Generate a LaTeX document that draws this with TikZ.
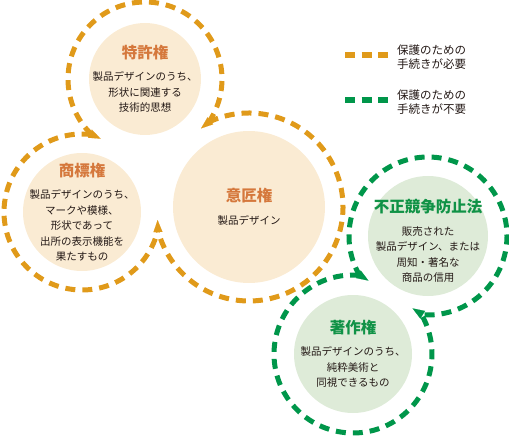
\documentclass[tikz,border=0pt]{standalone}
\usepackage{fontspec}
\setmainfont{Noto Sans CJK JP}
\usepackage{tikz}
\usetikzlibrary{arrows.meta,calc}

\definecolor{needorange}{HTML}{E09A1A}
\definecolor{freegreen}{HTML}{00964A}
\definecolor{ofill}{HTML}{FAEBD3}
\definecolor{gfill}{HTML}{DEEBD8}
\definecolor{otitle}{HTML}{D5783C}
\definecolor{gtitle}{HTML}{109246}
\definecolor{bodytext}{HTML}{231815}

\newcommand{\kenri}[2]{{\color{#1}\fontsize{15.5}{18}\selectfont\bfseries #2}}

\begin{document}
\begin{tikzpicture}[
    x=1pt, y=-1pt,
    protected/.style={circle, fill=ofill, inner sep=0pt},
    unprotected/.style={protected, fill=gfill},
    kenritxt/.style={inner sep=0pt, align=center, text=bodytext,
        font=\fontsize{10.5}{15.5}\selectfont},
    needring/.style={draw=needorange, line width=5pt, dash pattern=on 10pt off 7pt},
    freering/.style={needring, draw=freegreen},
    needtip/.style={-{Triangle[length=12pt,width=9pt]}, line width=0.1pt, needorange},
    freetip/.style={needtip, freegreen},
    legendlbl/.style={anchor=west, inner sep=0pt, align=left, text=bodytext,
        font=\fontsize{11.5}{14}\selectfont}
]
\useasboundingbox (0,0) rectangle (509,441);

% circles
\node[protected, minimum size=112pt] (tokkyo) at (145,79) {};
\node[protected, minimum size=118pt] (shohyo) at (82,212) {};
\node[protected, minimum size=152pt] (isho) at (249,207) {};
\node[unprotected, minimum size=120pt] (fusei) at (428,236) {};
\node[unprotected, minimum size=118pt] (chosaku) at (353,354) {};

\node[kenritxt] (tokkyo-txt) at (tokkyo) {\kenri{otitle}{特許権}\\[7pt]製品デザインのうち、\\形状に関連する\\技術的思想};
\node[kenritxt] (shohyo-txt) at (shohyo) {\kenri{otitle}{商標権}\\[7pt]製品デザインのうち、\\マークや模様、\\形状であって\\出所の表示機能を\\果たすもの};
\node[kenritxt] (isho-txt) at (isho) {\kenri{otitle}{意匠権}\\[7pt]製品デザイン};
\node[kenritxt] (fusei-txt) at ([yshift=-5pt]fusei.center) {\kenri{gtitle}{不正競争防止法}\\[7pt]販売された\\製品デザイン、または\\周知・著名な\\商品の信用};
\node[kenritxt] (chosaku-txt) at (chosaku) {\kenri{gtitle}{著作権}\\[7pt]製品デザインのうち、\\純粋美術と\\同視できるもの};

% rings
\draw[needring] (tokkyo.center) ++(133.8:77) arc[start angle=133.8, end angle=394, radius=77];
\draw[needring] (shohyo.center) ++(-82.9:78) arc[start angle=-82.9, end angle=-346.7, radius=78];
\draw[needring] (isho.center) ++(-115.3:94) arc[start angle=-115.3, end angle=165.8, radius=94];
\draw[freering] (fusei.center) ++(149.3:79) arc[start angle=149.3, end angle=455.1, radius=79];
\draw[freering] (chosaku.center) ++(-84.9:79) arc[start angle=-84.9, end angle=-390.65, radius=79];

% cusps
\coordinate (ts1) at (91.7,134.5);
\coordinate (ts2) at (135.9,155.5);
\coordinate (ti1) at (208.8,122.1);
\coordinate (ti2) at (174.2,150.3);
\coordinate (si1) at (157.9,230.0);
\coordinate (si2) at (156.7,189.4);
\coordinate (fc1) at (360.0,275.3);
\coordinate (fc2) at (421.0,313.7);
\draw[needtip] ($(ts1)!-2pt!(ts2)$) -- ($(ts1)!10pt!(ts2)$);
\draw[needtip] ($(ti1)!-2pt!(ti2)$) -- ($(ti1)!10pt!(ti2)$);
\draw[needtip] ($(si1)!-2pt!(si2)$) -- ($(si1)!10pt!(si2)$);
\draw[freetip] ($(fc1)!-2pt!(fc2)$) -- ($(fc1)!10pt!(fc2)$);
\draw[freetip] ($(fc2)!-2pt!(fc1)$) -- ($(fc2)!10pt!(fc1)$);

% legend
\node[legendlbl] (needlbl) at (397,57) {保護のための\\手続きが必要};
\node[legendlbl] (freelbl) at (397,102) {保護のための\\手続きが不要};
\draw[needring, line width=5.5pt, dash pattern=on 10pt off 6.5pt]
    ([shift={(-52pt,2pt)}]needlbl.west) -- ([shift={(-9pt,2pt)}]needlbl.west);
\draw[freering, line width=5.5pt, dash pattern=on 10pt off 6.5pt]
    ([shift={(-52pt,2pt)}]freelbl.west) -- ([shift={(-9pt,2pt)}]freelbl.west);
\end{tikzpicture}
\end{document}
